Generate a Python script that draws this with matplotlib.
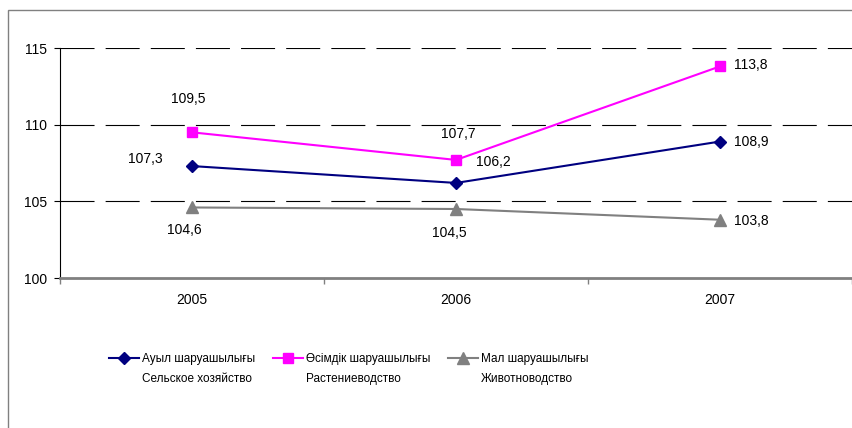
import matplotlib.pyplot as plt
from matplotlib.patches import Rectangle

plt.rcParams['font.family'] = ['Liberation Sans', 'DejaVu Sans']
plt.rcParams['lines.scale_dashes'] = False

years = ["2005", "2006", "2007"]
agri = [107.3, 106.2, 108.9]
crops = [109.5, 107.7, 113.8]
livestock = [104.6, 104.5, 103.8]
names_kk = ["Ауыл шаруашылығы", "Өсімдік шаруашылығы", "Мал шаруашылығы"]
names_ru = ["Сельское хозяйство", "Растениеводство", "Животноводство"]
yticks = [100, 105, 110, 115]

fig = plt.figure(figsize=(8.53, 4.28), dpi=100)
# outer chart frame (open to the right and bottom, as in the source image)
fig.patches.append(Rectangle((8 / 853, -0.1), 1.0, 1 - 10 / 428 + 0.1,
                             transform=fig.transFigure, fill=False,
                             edgecolor='#808080', linewidth=1.0))
ax = fig.add_axes([60 / 853, 1 - 278 / 428, 792 / 853, 230 / 428])

x = range(len(years))
for yv in yticks[1:]:
    ax.axhline(yv, color='black', linewidth=0.8, dashes=(24.5, 8.0), zorder=1)

l1, = ax.plot(x, agri, color='#000080', marker='D', markersize=6.5, linewidth=1.5, zorder=3)
l2, = ax.plot(x, crops, color='#FF00FF', marker='s', markersize=7.5, linewidth=1.5, zorder=3)
l3, = ax.plot(x, livestock, color='#808080', marker='^', markersize=8.5, linewidth=1.5, zorder=3)

ax.set_xlim(-0.5, 2.5)
ax.set_ylim(100, 115)
ax.set_yticks(yticks)
ax.set_yticklabels([str(v) for v in yticks], fontsize=10)
ax.set_xticks([-0.5, 0.5, 1.5, 2.5])
ax.set_xticklabels([])
ax.set_xticks(list(x), minor=True)
ax.set_xticklabels(years, minor=True, fontsize=10)
ax.tick_params(axis='x', which='major', direction='out', length=4, width=1, color='#808080')
ax.tick_params(axis='x', which='minor', length=0, pad=11)
ax.tick_params(axis='y', direction='out', length=4, width=0.8, pad=5)
for s in ['top', 'right']:
    ax.spines[s].set_visible(False)
ax.spines['bottom'].set_color('#808080')
ax.spines['bottom'].set_linewidth(2)
ax.spines['left'].set_linewidth(0.8)

def fmt(v):
    return f"{v:.1f}".replace('.', ',')

# label offsets in pixels (points at dpi 100 -> *0.72)
offsets = {
    'agri': [(-47, 7), (37, 21), (31, 0)],
    'crops': [(-4, 33), (2, 26), (31, 1)],
    'livestock': [(-8, -23), (-7, -24), (31, -1)],
}
for key, vals in [('agri', agri), ('crops', crops), ('livestock', livestock)]:
    for i, v in enumerate(vals):
        dx, dy = offsets[key][i]
        ax.annotate(fmt(v), (i, v), xytext=(dx * 0.72, dy * 0.72), textcoords='offset points',
                    ha='center', va='center', fontsize=10)

leg = fig.legend([l1, l2, l3], names_kk, loc='upper left', bbox_to_anchor=(104 / 853, 1 - 348 / 428),
                 ncol=3, frameon=False, fontsize=8.5, handlelength=2.55, handletextpad=0.25,
                 columnspacing=1.5, borderaxespad=0)
fig.canvas.draw()
inv = fig.transFigure.inverted()
for t, sub in zip(leg.get_texts(), names_ru):
    bb = t.get_window_extent()
    x0, y0 = inv.transform((bb.x0, bb.y0 - 8))
    fig.text(x0, y0, sub, fontsize=8.5, ha='left', va='top')

fig.savefig('out.png', dpi=100)
